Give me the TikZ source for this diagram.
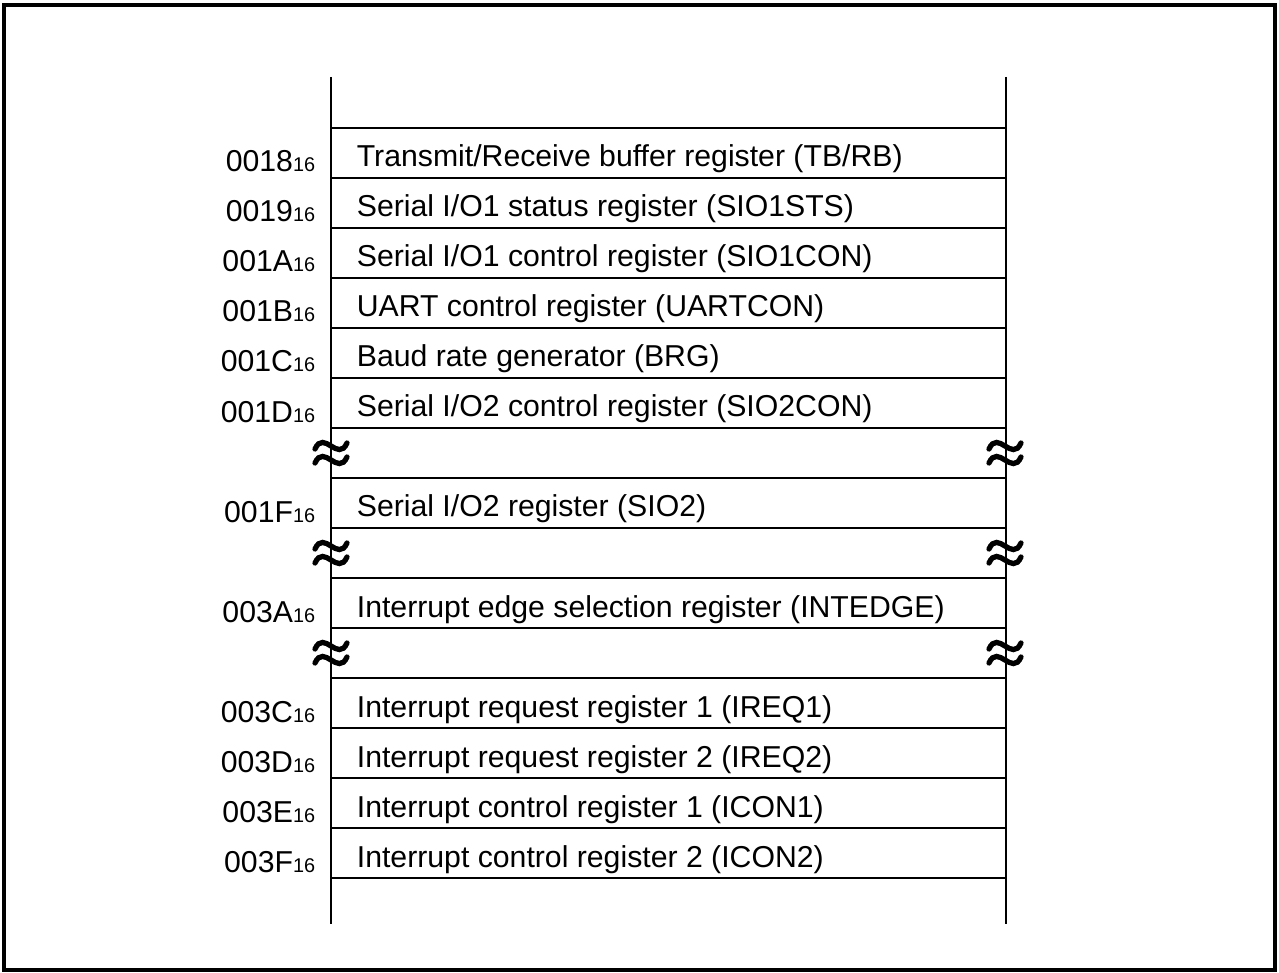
\documentclass[tikz,border=0pt]{standalone}
\usepackage{fontspec}
\setmainfont{Liberation Sans}

\begin{document}
\begin{tikzpicture}[x=0.02cm,y=-0.02cm,line width=1pt,
  every node/.style={font=\fontsize{17.2}{20}\selectfont,inner sep=0pt},
  reg/.style={anchor=base west},
  addr/.style={anchor=base east},
  brk/.style={line width=3pt,line cap=round}]
  \useasboundingbox (0,0) rectangle (1279,973);
  % outer frame
  \draw[line width=2.7pt] (4,5) rectangle (1275,970);
  % memory column
  \coordinate (colTL) at (331,77);
  \coordinate (colBL) at (331,924);
  \coordinate (colTR) at (1006,77);
  \coordinate (colBR) at (1006,924);
  \draw (colTL) -- (colBL);
  \draw (colTR) -- (colBR);
  \foreach \y in {128,178,...,878}
    \draw (331,\y) -- (1006,\y);
  % registers
  \foreach \t/\a/\txt in {
      128/0018/{Transmit/Receive buffer register (TB/RB)},
      178/0019/{Serial I/O1 status register (SIO1STS)},
      228/001A/{Serial I/O1 control register (SIO1CON)},
      278/001B/{UART control register (UARTCON)},
      328/001C/{Baud rate generator (BRG)},
      378/001D/{Serial I/O2 control register (SIO2CON)},
      478/001F/{Serial I/O2 register (SIO2)},
      578/003A/{Interrupt edge selection register (INTEDGE)},
      678/003C/{Interrupt request register 1 (IREQ1)},
      728/003D/{Interrupt request register 2 (IREQ2)},
      778/003E/{Interrupt control register 1 (ICON1)},
      828/003F/{Interrupt control register 2 (ICON2)}} {
    \node[reg] (r\a) at (356,\t+39) {\txt};
    \node[addr] (a\a) at (316,\t+44) {\a{\fontsize{11.3}{13}\selectfont 16}};
  }
  % break marks
  \foreach \y in {453,553,653}
    \foreach \x in {331,1005} {
      \draw[brk] (\x-16,\y-4) .. controls (\x-7,\y-24) and (\x+7,\y+10) .. (\x+16,\y-10);
      \draw[brk] (\x-16,\y+10) .. controls (\x-7,\y-10) and (\x+7,\y+24) .. (\x+16,\y+4);
    }
\end{tikzpicture}
\end{document}
